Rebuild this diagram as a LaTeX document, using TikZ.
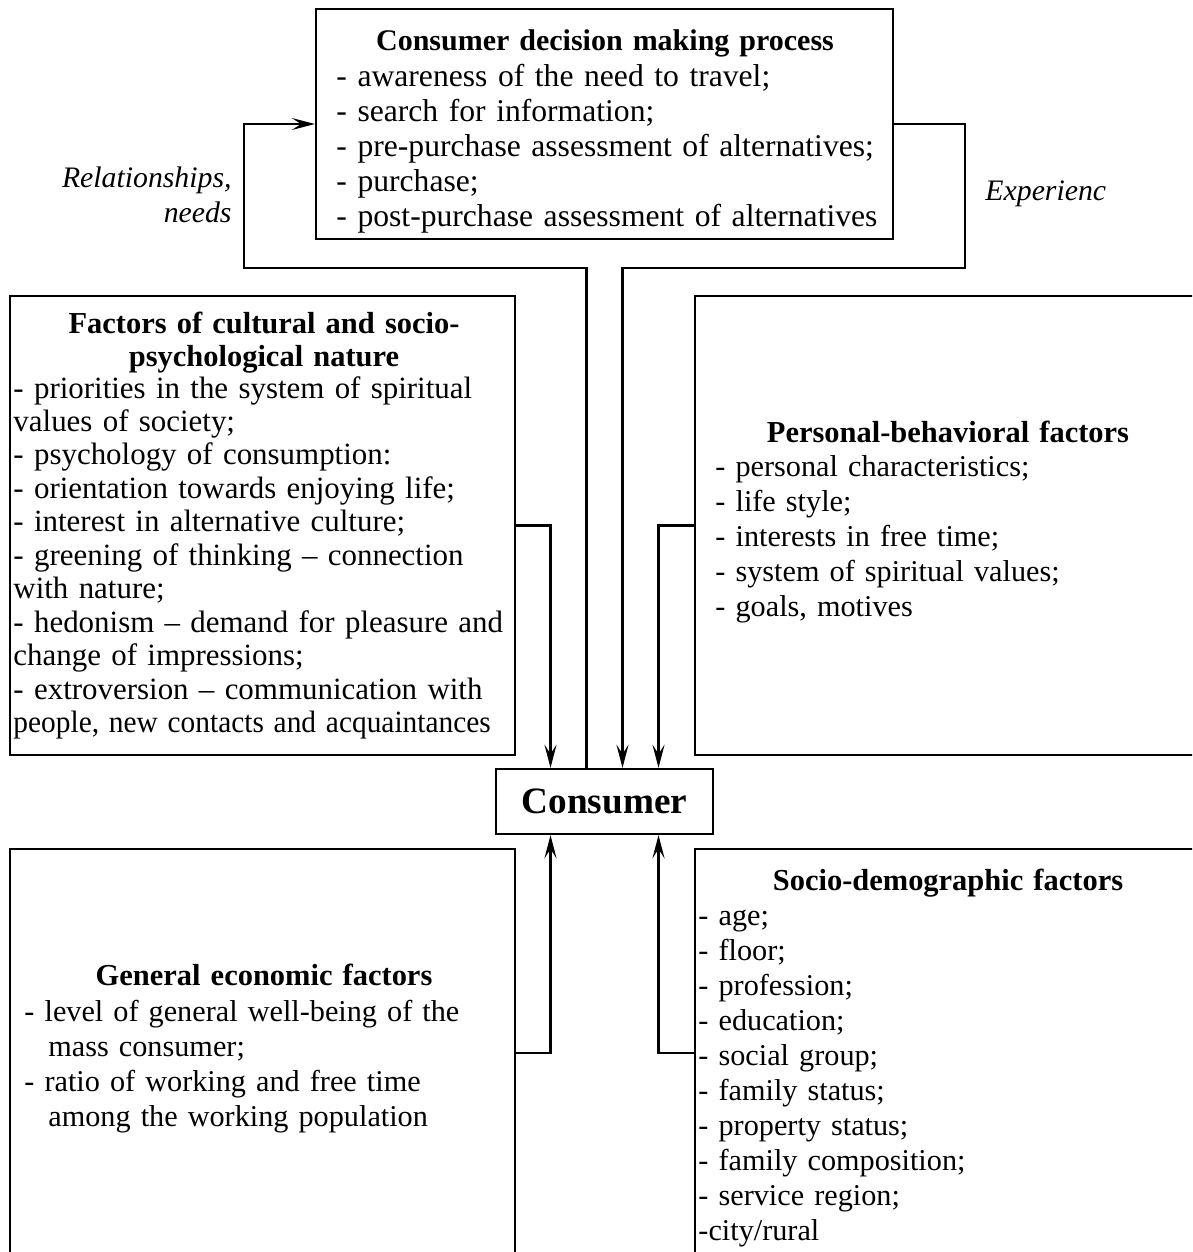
\documentclass[tikz,border=0pt]{standalone}
\usepackage{fontspec}
\setmainfont{Liberation Serif}
\usepackage{graphicx}
\usepackage{tikz}
\usetikzlibrary{arrows.meta,positioning,calc}
\tikzstyle{frame} = [draw, rectangle, line width=0.9pt, inner sep=0pt]
\tikzstyle{head} = [anchor=base, align=center, text width=240pt, inner sep=0pt, font=\fontsize{13.1}{15.05}\selectfont\bfseries]
\tikzstyle{list} = [anchor=base west, align=left, text width=240pt, inner sep=0pt]
\tikzstyle{tag} = [inner sep=0pt, font=\fontsize{12.8}{15.05}\selectfont\itshape]
\tikzstyle{arr} = [draw, line width=0.9pt, -{Stealth[length=10pt, width=5.2pt, inset=4pt]}]

\begin{document}
\begin{tikzpicture}[x=0.43pt, y=-0.43pt] \fontsize{13.6}{15.05}\selectfont
    \useasboundingbox (0,0) rectangle (1192,1252);
    \clip (0,0) rectangle (1192,1252);

    \node [frame, minimum width=248.1pt, minimum height=98.9pt] (cdm) at (604.5,124) {};
    \node [frame, minimum width=217.2pt, minimum height=197.4pt] (cult) at (262.5,525.5) {};
    \node [frame, minimum width=219.3pt, minimum height=197.4pt] (pers) at (950,525.5) {};
    \node [frame, minimum width=93.3pt, minimum height=28pt, font=\fontsize{16}{19}\selectfont\bfseries] (cons) at (604.5,801.5) {Consumer};
    \node [frame, minimum width=217.2pt, minimum height=175.4pt] (econ) at (262.5,1053) {};
    \node [frame, minimum width=219.3pt, minimum height=175.4pt] (socio) at (950,1053) {};

    \node [head, font=\fontsize{12.9}{15.05}\selectfont\bfseries] (cdmT) at (605,50) {Consumer decision making process};
    \node [list] (cdmL) at (336,86) {- awareness of the need to travel;\\- search for information;\\- pre-purchase assessment of alternatives;\\- purchase;\\- post-purchase assessment of alternatives};

    \node [head, font=\fontsize{13.1}{14.4}\selectfont\bfseries] (cultT) at (264,333) {Factors of cultural and socio-\\psychological nature};
    \node [list, font=\fontsize{13.3}{14.4}\selectfont] (cultL) at (13,398) {- priorities in the system of spiritual\\values of society;\\- psychology of consumption:\\- orientation towards enjoying life;\\- interest in alternative culture;\\- greening of thinking – connection\\with nature;\\- hedonism – demand for pleasure and\\change of impressions;\\- extroversion – communication with\\\scalebox{0.95}[1]{people, new contacts and acquaintances}};

    \node [head] (persT) at (948,442) {Personal-behavioral factors};
    \node [list, font=\fontsize{13}{15.05}\selectfont] (persL) at (715,476) {- personal characteristics;\\- life style;\\- interests in free time;\\- system of spiritual values;\\- goals, motives};

    \node [head] (econT) at (264,985) {General economic factors};
    \node [list, font=\fontsize{13}{15.05}\selectfont] (econL) at (24,1021) {- level of general well-being of the\\\hspace*{10.3pt}mass consumer;\\- ratio of working and free time\\\hspace*{10.3pt}among the working population};

    \node [head] (socioT) at (948,890) {Socio-demographic factors};
    \node [list, font=\fontsize{13}{15.05}\selectfont] (socioL) at (698,925) {- age;\\- floor;\\- profession;\\- education;\\- social group;\\- family status;\\- property status;\\- family composition;\\- service region;\\-city/rural};

    \node [tag, anchor=base east, align=right, text width=110pt] (rel) at (232,187) {Relationships,\hspace*{2.5pt}\\needs};
    \node [tag, anchor=base west] (exp) at (985,200) {Experienc};

    \coordinate (fbL) at (244,268);
    \coordinate (fbR) at (965,268);
    \draw [arr] ($(cons.north)+(-18,0)$) |- (fbL) |- (cdm.west);
    \draw [arr] (cdm.east) -| (fbR) -| ($(cons.north)+(18,0)$);

    \draw [arr] (cult.east) -| ($(cons.north)+(-54,0)$);
    \draw [arr] (pers.west) -| ($(cons.north)+(54,0)$);
    \draw [arr] (econ.east) -| ($(cons.south)+(-54,0)$);
    \draw [arr] (socio.west) -| ($(cons.south)+(54,0)$);
\end{tikzpicture}
\end{document}
